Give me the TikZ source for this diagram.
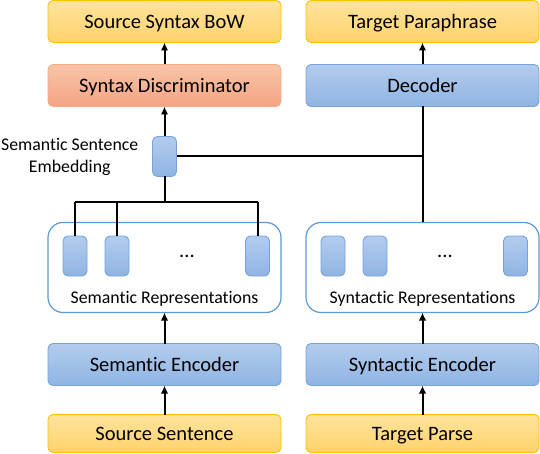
\documentclass[tikz,border=0pt]{standalone}
\usepackage{fontspec}
\setmainfont[RawFeature={-liga;-clig;-calt;-dlig}]{Carlito}
\usetikzlibrary{positioning,arrows.meta}

\definecolor{ylwTop}{HTML}{FFE39C}
\definecolor{ylwBot}{HTML}{FFD36C}
\definecolor{ylwLine}{HTML}{FFC000}
\definecolor{redTop}{HTML}{F9C4A8}
\definecolor{redBot}{HTML}{F4A483}
\definecolor{redLine}{HTML}{F4AD88}
\definecolor{bluTop}{HTML}{B3CCED}
\definecolor{bluBot}{HTML}{8FB4E3}
\definecolor{bluLine}{HTML}{76A3DB}
\definecolor{repLine}{HTML}{5B9BD5}

\tikzset{
  box/.style={rectangle,rounded corners=5pt,minimum width=233pt,minimum height=42pt,inner sep=0pt,outer sep=0pt,line width=0.9pt,text height=17.5pt,text depth=4pt,font=\fontsize{20.5}{24}\selectfont},
  yellowbox/.style={box,draw=ylwLine,top color=ylwTop,bottom color=ylwBot},
  redbox/.style={box,draw=redLine,top color=redTop,bottom color=redBot},
  bluebox/.style={box,draw=bluLine,top color=bluTop,bottom color=bluBot},
  repbox/.style={rectangle,rounded corners=15pt,minimum width=233pt,minimum height=90pt,inner sep=0pt,outer sep=0pt,draw=repLine,line width=1.2pt,fill=white},
  cell/.style={rectangle,rounded corners=5pt,minimum width=24pt,minimum height=40pt,inner sep=0pt,outer sep=0pt,draw=bluLine,line width=0.9pt,top color=bluTop,bottom color=bluBot},
  lbl/.style={inner sep=0pt,font=\fontsize{17.8}{22}\selectfont},
  link/.style={line width=2pt},
  arr/.style={-{Latex[length=8pt,width=7.5pt]},link}
}

\begin{document}
\begin{tikzpicture}[x=1pt,y=-1pt]
\useasboundingbox (0,0) rectangle (540,454);
% Left column
\node[yellowbox] (bow) at (164.5,21.5) {Source Syntax BoW};
\node[redbox, below=22pt of bow] (disc) {Syntax Discriminator};
\node[cell, below=30pt of disc] (emb) {};
\node[lbl, align=center, left=14pt of emb] (embtxt) {Semantic Sentence\\Embedding};
\node[repbox, below=46pt of emb] (semrep) {};
\node[bluebox, below=31pt of semrep] (semenc) {Semantic Encoder};
\node[yellowbox, below=29pt of semenc, minimum height=38pt] (src) {Source Sentence};
% Right column
\node[yellowbox, right=25pt of bow] (para) {Target Paraphrase};
\node[bluebox, right=25pt of disc] (dec) {Decoder};
\node[repbox, right=25pt of semrep] (synrep) {};
\node[bluebox, right=25pt of semenc] (synenc) {Syntactic Encoder};
\node[yellowbox, right=25pt of src, minimum height=38pt] (tgt) {Target Parse};
% Representation cells
\foreach \rep/\pre/\txt in {semrep/s/Semantic Representations, synrep/y/Syntactic Representations}{
  \node[cell] (\pre1) at ([xshift=27pt,yshift=-33.5pt]\rep.north west) {};
  \node[cell] (\pre2) at ([xshift=69pt,yshift=-33.5pt]\rep.north west) {};
  \node[cell] (\pre3) at ([xshift=209.5pt,yshift=-33.5pt]\rep.north west) {};
  \node[inner sep=0pt,font=\fontsize{20.5}{24}\selectfont] (\pre dots) at ([xshift=139pt,yshift=-34pt]\rep.north west) {...};
  \node[lbl,text height=13pt,text depth=4pt] (\pre lbl) at ([yshift=14pt]\rep.south) {\txt};
}

% Arrows
\draw[arr] (disc.north) -- (bow.south);
\draw[arr] (emb.north) -- (disc.south);
\draw[arr] (dec.north) -- (para.south);
\draw[arr] (semenc.north) -- (semrep.south);
\draw[arr] (src.north) -- (semenc.south);
\draw[arr] (synenc.north) -- (synrep.south);
\draw[arr] (tgt.north) -- (synenc.south);
% Pooling bus
\coordinate[below=26pt of emb.south] (bus);
\draw[link] (emb.south) -- (bus);
\draw[link] (s1.north |- bus) -- (s3.north |- bus);
\draw[link] (s1.north |- bus) -- (s1.north);
\draw[link] (s2.north |- bus) -- (s2.north);
\draw[link] (s3.north |- bus) -- (s3.north);
% Into the decoder
\draw[link] (synrep.north) -- (dec.south);
\draw[link] (emb.east) -- (emb.east -| dec.south);
\end{tikzpicture}
\end{document}
